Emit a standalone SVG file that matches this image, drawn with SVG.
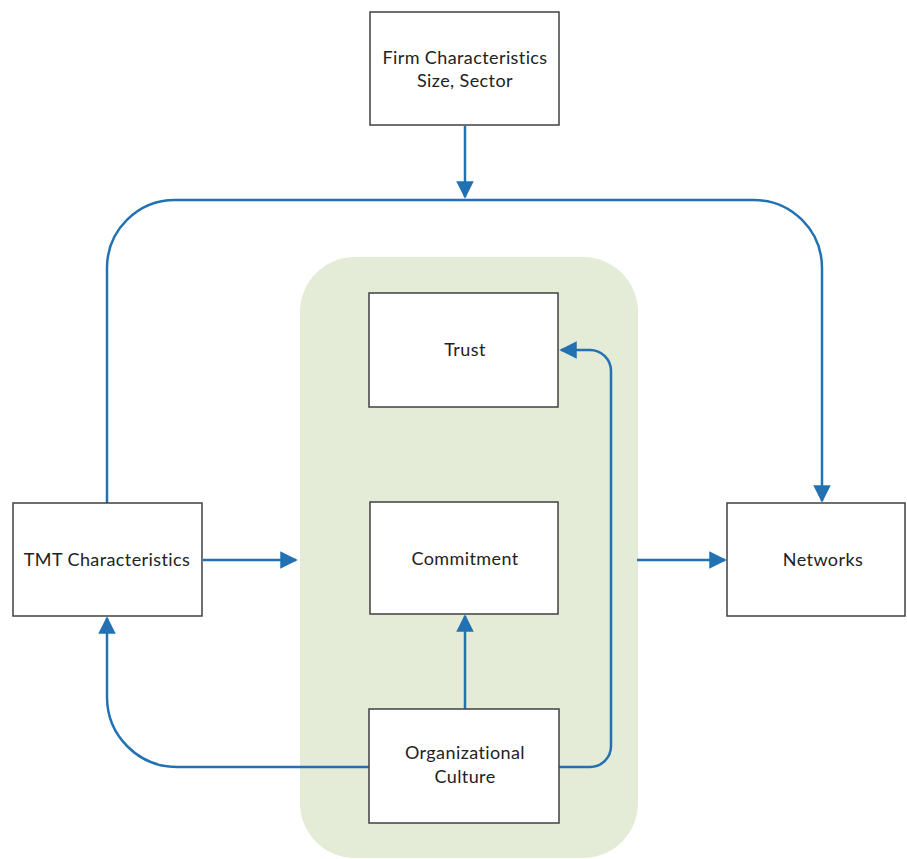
<svg xmlns="http://www.w3.org/2000/svg" width="907" height="859" viewBox="0 0 907 859">
  <style>
    .box { fill: #ffffff; stroke: #404040; stroke-width: 1.5; }
    .label { font-family: "Lato", "Open Sans", "Liberation Sans", sans-serif; font-size: 18px; letter-spacing: 0.4px; fill: #222222; text-anchor: middle; }
    .link { fill: none; stroke: #2271b3; stroke-width: 2.5; }
  </style>
  <defs>
    <marker id="arrow" viewBox="0 0 10 10" refX="9" refY="5" markerWidth="7" markerHeight="7" markerUnits="strokeWidth" orient="auto">
      <path d="M0,0 L10,5 L0,10 z" fill="#2271b3"/>
    </marker>
  </defs>

  <rect width="907" height="859" fill="#ffffff"/>

  <!-- shared mediating zone -->
  <rect id="mediators-zone" x="300" y="257" width="338" height="601" rx="55" ry="55" fill="#e4ebd6"/>

  <!-- connectors -->
  <g id="connectors">
    <path class="link" d="M465,126 L465,197" marker-end="url(#arrow)"/>
    <path class="link" d="M107,503 L107,268 A68,68 0 0 1 175,200 L754,200 A68,68 0 0 1 822,268 L822,501" marker-end="url(#arrow)"/>
    <path class="link" d="M203,560 L296,560" marker-end="url(#arrow)"/>
    <path class="link" d="M637,560 L725,560" marker-end="url(#arrow)"/>
    <path class="link" d="M465,709 L465,616" marker-end="url(#arrow)"/>
    <path class="link" d="M559,767 L590,767 A21,21 0 0 0 611,746 L611,371 A21,21 0 0 0 590,350 L561,350" marker-end="url(#arrow)"/>
    <path class="link" d="M369,767 L177,767 A70,70 0 0 1 107,697 L107,618" marker-end="url(#arrow)"/>
  </g>

  <g id="firm-characteristics">
    <rect class="box" x="370" y="12" width="189" height="113"/>
    <text class="label" x="465" y="64">Firm Characteristics</text>
    <text class="label" x="465" y="87">Size, Sector</text>
  </g>

  <g id="tmt-characteristics">
    <rect class="box" x="13" y="503" width="189" height="113"/>
    <text class="label" x="107" y="566">TMT Characteristics</text>
  </g>

  <g id="networks">
    <rect class="box" x="727" y="503" width="178" height="113"/>
    <text class="label" x="823" y="566">Networks</text>
  </g>

  <g id="trust">
    <rect class="box" x="369" y="293" width="189" height="114"/>
    <text class="label" x="465" y="356">Trust</text>
  </g>

  <g id="commitment">
    <rect class="box" x="370" y="502" width="188" height="112"/>
    <text class="label" x="465" y="565">Commitment</text>
  </g>

  <g id="organizational-culture">
    <rect class="box" x="369" y="709" width="190" height="114"/>
    <text class="label" x="465" y="759">Organizational</text>
    <text class="label" x="465" y="783">Culture</text>
  </g>
</svg>
